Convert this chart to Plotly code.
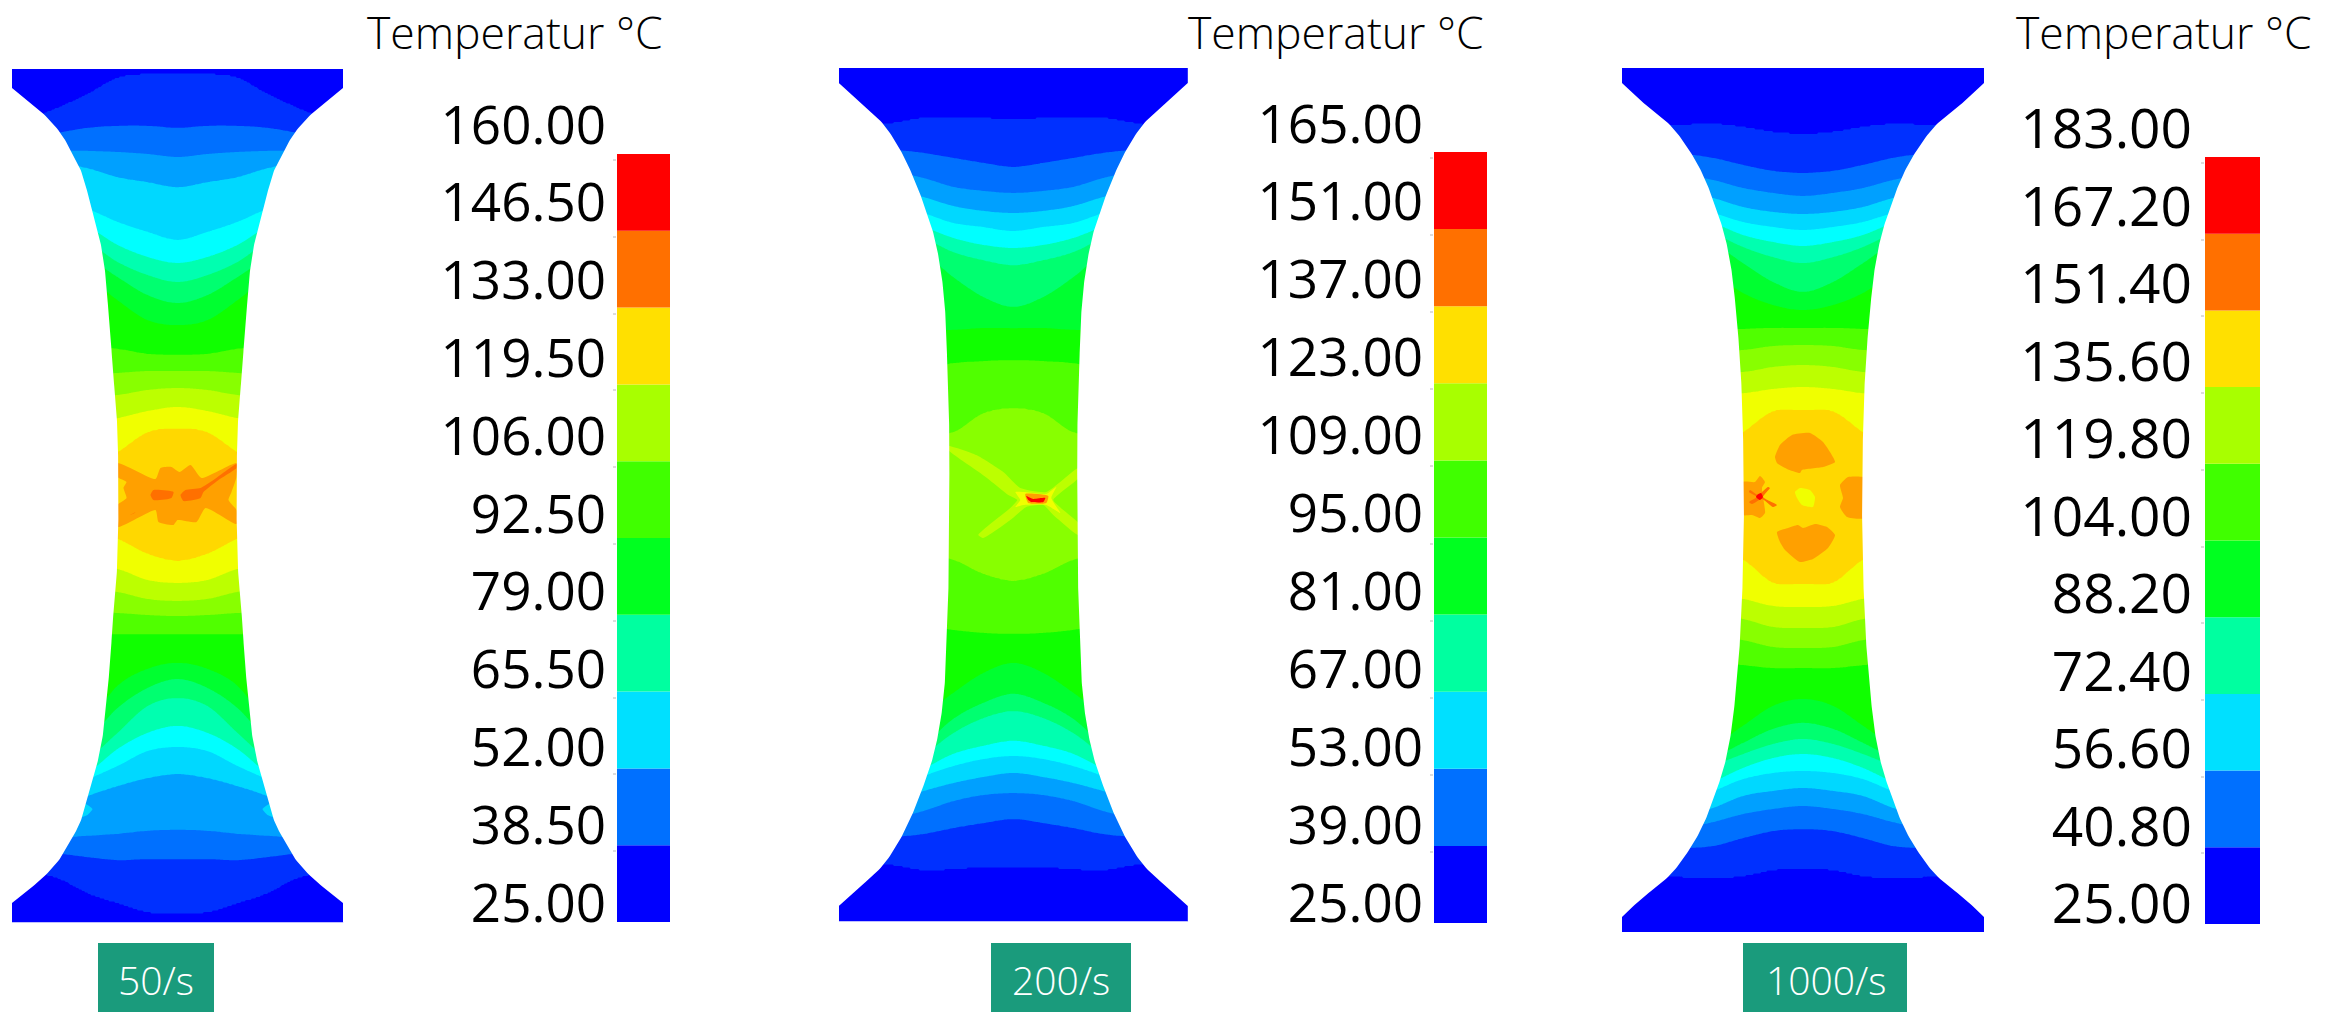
import numpy as np
import plotly.graph_objects as go

W_PX, H_PX = 2335, 1012
TITLE = "Temperatur °C"
FONT = "Open Sans"

# contour palette of the simulation (18 bands) and the coarser legend palette (10 swatches)
band_colors = ["#0000ff", "#0030ff", "#0070ff", "#00a0ff", "#00d8ff", "#00ffff", "#00ffb0", "#00ff70",
               "#00ff30", "#10ff00", "#50ff00", "#88ff00", "#bcff00", "#f0ff00", "#ffd800", "#ffa000",
               "#ff7000", "#ff0000"]
legend_colors = ["#0000ff", "#0070ff", "#00e0ff", "#00ffa0", "#00ff20", "#40ff00", "#a8ff00", "#ffe000",
                 "#ff7000", "#ff0000"]

# ---------- 50/s ----------
p1_rate = "50/s"
p1_levels = [25.0, 38.5, 52.0, 65.5, 79.0, 92.5, 106.0, 119.5, 133.0, 146.5, 160.0]
p1_labels = ["25.00", "38.50", "52.00", "65.50", "79.00", "92.50", "106.00", "119.50", "133.00", "146.50", "160.00"]
p1_outline_y = [69, 88, 113, 133, 152, 167, 187, 208, 233, 267, 300, 333, 367, 400, 433, 495.5]
p1_outline_half = [165.5, 165.5, 135, 117, 106, 98, 91.5, 86, 79, 73, 70, 67, 65, 62, 60, 59]
p1_dx = [0, 30, 60, 90, 120, 170]
p1_iso_top = [
    [72, 73, 77, 93, 107, 127], [128, 126, 126, 128, 133, 143], [157, 154, 152, 151, 151, 152],
    [187, 182, 177, 168, 163, 160], [240, 232, 222, 209, 200, 197], [263, 257, 245, 227, 220, 217],
    [282, 275, 262, 242, 233, 230], [303, 295, 277, 258, 250, 247], [325, 320, 300, 277, 267, 263],
    [355, 354, 349, 347, 340, 333], [371, 371, 373, 375, 375, 375], [388, 390, 395, 397, 397, 397],
    [407, 411, 418, 422, 422, 422], [428, 432, 452, 467, 473, 477]]
p1_iso_bottom = [
    [914, 913, 904, 894, 879, 868], [859, 859, 860, 857, 853, 845], [830, 831, 834, 836, 838, 840],
    [774, 778, 786, 796, 810, 825], [747, 751, 766, 779, 790, 798], [726, 733, 749, 773, 785, 792],
    [698, 706, 733, 759, 770, 778], [679, 688, 708, 739, 750, 760], [663, 669, 686, 723, 735, 745],
    [634, 634, 634, 634, 634, 634], [616, 615, 613, 612, 611, 610], [601, 599, 592, 590, 588, 586],
    [583, 580, 569, 565, 562, 560], [561, 554, 539, 530, 528, 525]]
p1_spots = [
    (4, [-101, -90, -85, -90, -100], [800, 805, 809, 815, 818]),
    (4, [101, 90, 85, 90, 100], [800, 805, 809, 815, 818]),
    (15, [-60, -22, -17, -6, 2, 13, 24, 59, 59, 54, 51, 59, 59, 28, 19, 0, -4, -19, -22, -60, -60, -51, -54, -51, -60],
     [463, 479, 468, 467, 472, 465, 478, 463, 477, 492, 500, 510, 524, 508, 522, 520, 525, 522, 510, 527, 505, 498, 488, 482, 477]),
    (16, [-27, -24, -4, -6, -24], [495, 490, 492, 498, 500]),
    (16, [3, 8, 23, 36, 59, 59, 41, 26, 23, 6], [495, 490, 488, 480, 464, 468, 480, 492, 498, 501]),
    (16, [-47, -42, -43], [515, 512, 513]),
]

# ---------- 200/s ----------
p2_rate = "200/s"
p2_levels = [25.0, 39.0, 53.0, 67.0, 81.0, 95.0, 109.0, 123.0, 137.0, 151.0, 165.0]
p2_labels = ["25.00", "39.00", "53.00", "67.00", "81.00", "95.00", "109.00", "123.00", "137.00", "151.00", "165.00"]
p2_outline_y = [68, 83, 100, 123, 150, 177, 200, 233, 267, 300, 333, 367, 433, 494.5]
p2_outline_half = [174.5, 174.5, 155.6, 131, 113, 100, 91, 80, 73, 69, 67, 66, 64, 64]
p2_dx = [0, 30, 60, 90, 120, 175]
p2_iso_top = [
    [119, 117, 116, 117, 122, 130], [167, 163, 158, 153, 150, 148], [193, 191, 187, 178, 172, 168],
    [213, 211, 206, 197, 190, 185], [231, 227, 223, 213, 205, 200], [248, 245, 238, 227, 220, 215],
    [265, 260, 252, 238, 230, 225], [307, 297, 277, 253, 245, 240], [328, 328, 330, 330, 330, 330],
    [360, 361, 363, 368, 368, 368], [408, 413, 432, 433, 433, 433]]
p2_iso_bottom = [
    [868, 868, 870, 871, 866, 860], [819, 823, 828, 834, 837, 842], [793, 795, 801, 811, 818, 825],
    [773, 777, 783, 791, 800, 808], [756, 759, 766, 776, 788, 798], [741, 746, 754, 769, 782, 792],
    [711, 718, 733, 755, 770, 780], [694, 703, 719, 745, 760, 770], [663, 673, 693, 715, 725, 735],
    [634, 633, 630, 625, 625, 625], [581, 574, 560, 555, 555, 555]]
p2_spots = [
    (12, [-65, -37, -10, 7, 33, 65, 65, 40, 50, 65, 65, 40, 30, 13, -3, -30, -35, -3, 4, -5, -20, -33, -65],
     [446, 455, 472, 488, 492, 468, 478, 500, 510, 523, 535, 515, 505, 507, 520, 538, 535, 508, 500, 495, 483, 473, 450]),
    (13, [2, 12, 33, 43, 38, 47, 33, 10, 2, 7], [492, 492, 494, 487, 498, 513, 505, 505, 507, 500]),
    (15, [12, 35, 33, 15], [494, 496, 503, 503]),
    (17, [13, 20, 32, 30, 18, 15], [496, 499, 498, 502, 502, 500]),
]

# ---------- 1000/s ----------
p3_rate = "1000/s"
p3_levels = [25.0, 40.8, 56.6, 72.4, 88.2, 104.0, 119.8, 135.6, 151.4, 167.2, 183.0]
p3_labels = ["25.00", "40.80", "56.60", "72.40", "88.20", "104.00", "119.80", "135.60", "151.40", "167.20", "183.00"]
p3_outline_y = [68, 83, 100, 125, 153, 177, 200, 233, 267, 300, 333, 367, 400, 433, 500]
p3_outline_half = [181, 181, 163, 133, 112, 99, 90, 79, 72, 68, 65, 62.5, 61, 60, 59]
p3_dx = [0, 30, 60, 90, 120, 181]
p3_iso_top = [
    [133, 131, 126, 123, 124, 127], [173, 171, 165, 158, 154, 150], [196, 193, 188, 180, 175, 170],
    [214, 212, 207, 198, 192, 188], [230, 227, 222, 213, 206, 200], [246, 242, 235, 223, 215, 210],
    [263, 257, 247, 233, 225, 220], [292, 282, 263, 243, 235, 230], [310, 305, 293, 273, 260, 250],
    [328, 328, 329, 330, 330, 330], [345, 346, 350, 350, 350, 350], [365, 367, 372, 372, 372, 372],
    [387, 389, 393, 393, 393, 393], [410, 411, 432, 450, 460, 470]]
p3_iso_bottom = [
    [869, 871, 877, 879, 878, 875], [829, 831, 838, 846, 848, 850], [806, 809, 814, 822, 828, 834],
    [788, 791, 796, 808, 816, 824], [771, 773, 779, 791, 800, 808], [754, 758, 768, 782, 792, 800],
    [739, 744, 754, 766, 780, 790], [723, 729, 743, 758, 770, 780], [699, 706, 726, 746, 755, 765],
    [668, 668, 665, 663, 660, 658], [648, 647, 640, 637, 635, 632], [628, 627, 619, 616, 612, 608],
    [607, 606, 599, 595, 590, 585], [584, 583, 560, 550, 540, 530]]
p3_spots = [
    (15, [-28, -23, -11, 7, 20, 32, 20, -1, -3, -16, -26], [457, 445, 435, 433, 442, 462, 467, 470, 473, 469, 463]),
    (15, [-26, -15, -5, 0, 12, 24, 32, 25, 10, -3, -18, -23], [532, 528, 525, 528, 524, 527, 535, 548, 559, 562, 550, 542]),
    (15, [-60, -48, -43, -38, -41, -38, -43, -51, -60], [482, 482, 476, 482, 488, 513, 518, 515, 515]),
    (15, [37, 45, 63, 63, 44, 37, 40], [485, 477, 478, 518, 517, 507, 498]),
    (13, [-8, -3, 7, 12, 10, -1, -6], [492, 488, 490, 497, 507, 505, 498]),
    (16, [-53, -45, -35, -33, -40, -26, -30, -41, -51, -54, -46, -54], [490, 495, 487, 488, 497, 505, 507, 499, 504, 502, 497, 492]),
    (17, [-46, -42, -40, -43, -47], [495, 493, 497, 500, 497]),
]

# layout of the picture, in reference pixels
panels = [
    dict(rate=p1_rate, levels=p1_levels, labels=p1_labels, oy=p1_outline_y, oh=p1_outline_half, dx=p1_dx,
         top=p1_iso_top, bot=p1_iso_bottom, spots=p1_spots, cx=177.5, tick_size=53,
         bar=(617, 670, 154, 922), lab=(606, 125, 903), title=515, badge=(98, 214, 156)),
    dict(rate=p2_rate, levels=p2_levels, labels=p2_labels, oy=p2_outline_y, oh=p2_outline_half, dx=p2_dx,
         top=p2_iso_top, bot=p2_iso_bottom, spots=p2_spots, cx=1013.3, tick_size=53,
         bar=(1434, 1487, 152, 923), lab=(1423, 124, 903), title=1336, badge=(991, 1131, 1061)),
    dict(rate=p3_rate, levels=p3_levels, labels=p3_labels, oy=p3_outline_y, oh=p3_outline_half, dx=p3_dx,
         top=p3_iso_top, bot=p3_iso_bottom, spots=p3_spots, cx=1803, tick_size=55,
         bar=(2205, 2260, 157, 924), lab=(2192, 129, 904), title=2164, badge=(1743, 1907, 1826)),
]


def stepped(colors):
    n = len(colors)
    out = []
    for i, c in enumerate(colors):
        out += [[i / n, c], [(i + 1) / n, c]]
    return out


def smooth(x_query, knots_x, knots_y, mirror=True):
    """Catmull-Rom curve through readings; optionally symmetric about the first knot."""
    kx = np.array(knots_x, float)
    ky = np.array(knots_y, float)
    if mirror:
        px = np.concatenate([[2 * kx[0] - kx[1]], kx, [2 * kx[-1] - kx[-2]]])
        py = np.concatenate([[ky[1]], ky, [2 * ky[-1] - ky[-2]]])
    else:
        px = np.concatenate([[2 * kx[0] - kx[1]], kx, [2 * kx[-1] - kx[-2]]])
        py = np.concatenate([[2 * ky[0] - ky[1]], ky, [ky[-2]]])
    q = np.clip(x_query, kx[0], kx[-1])
    s = np.clip(np.searchsorted(px, q, side="right") - 1, 1, len(px) - 3)
    h = px[s + 1] - px[s]
    t = (q - px[s]) / h
    m0 = (py[s + 1] - py[s - 1]) / (px[s + 1] - px[s - 1]) * h
    m1 = (py[s + 2] - py[s]) / (px[s + 2] - px[s]) * h
    return ((2 * t**3 - 3 * t**2 + 1) * py[s] + (t**3 - 2 * t**2 + t) * m0
            + (-2 * t**3 + 3 * t**2) * py[s + 1] + (t**3 - t**2) * m1)


fig = go.Figure()
layout = {}
annotations, shapes = [], []

for i, p in enumerate(panels):
    fx, fy = f"x{2 * i + 1}", f"y{2 * i + 1}"
    bx, by = f"x{2 * i + 2}", f"y{2 * i + 2}"
    ly = f"y{7 + i}"
    tmin, tmax = p["levels"][0], p["levels"][-1]
    step = (tmax - tmin) / 18
    half_max = max(p["oh"])
    y_top, y_mid = p["oy"][0], p["oy"][-1]
    y_bot = 2 * y_mid - y_top

    # temperature field rebuilt from the isotherm positions
    xs = np.arange(-half_max, half_max + 1.5, 1.5)
    ys = np.arange(y_top, y_bot + 1.5, 1.5)
    z = np.zeros((len(ys), len(xs)))
    n_iso = len(p["top"])
    lv = [tmin + (k + 1) * step for k in range(n_iso)]
    knot_z = lv + [lv[-1] + 0.5 * step] + lv[::-1]
    for j, xv in enumerate(xs):
        t = [float(smooth(np.array([abs(xv)]), p["dx"], b)[0]) for b in p["top"]]
        b = [float(smooth(np.array([abs(xv)]), p["dx"], c)[0]) for c in p["bot"]][::-1]
        knots = np.maximum.accumulate(np.array(t + [(t[-1] + b[0]) / 2] + b))
        z[:, j] = np.interp(ys, knots, knot_z, left=tmin + 0.5 * step, right=tmin + 0.5 * step)

    fig.add_trace(go.Contour(
        x=xs, y=ys, z=np.round(z, 2), xaxis=fx, yaxis=fy, showscale=False, autocontour=False,
        contours=dict(start=tmin + step, end=tmin + 17 * step, size=step, coloring="fill", showlines=False),
        line=dict(width=0), colorscale=stepped(band_colors), zmin=tmin, zmax=tmax, hoverinfo="skip"))

    for band, sx, sy in p["spots"]:
        fig.add_trace(go.Scatter(x=sx + sx[:1], y=sy + sy[:1], xaxis=fx, yaxis=fy, mode="lines", fill="toself",
                                 fillcolor=band_colors[band], line=dict(width=0, shape="spline", smoothing=0.5),
                                 showlegend=False, hoverinfo="skip"))

    # white outside of the specimen outline: straight grip edge, then a smooth curve to the neck
    oy = np.array(p["oy"], float)
    oh = np.array(p["oh"], float)
    fine_y = np.arange(oy[1], y_mid + 2.0, 2.0)
    fine_h = smooth(fine_y, oy[1:], oh[1:], mirror=False)
    half_y = np.concatenate([[oy[0]], fine_y])
    half_h = np.concatenate([[oh[0]], fine_h])
    full_y = np.concatenate([half_y, (2 * y_mid - half_y[::-1])[1:]])
    full_h = np.concatenate([half_h, half_h[::-1][1:]])
    edge = half_max + 3
    for sgn in (-1, 1):
        mx = np.concatenate([sgn * full_h, [sgn * edge, sgn * edge]])
        my = np.concatenate([full_y, [y_bot, y_top]])
        fig.add_trace(go.Scatter(x=mx, y=my, xaxis=fx, yaxis=fy, mode="lines", fill="toself", fillcolor="white",
                                 line=dict(width=0), showlegend=False, hoverinfo="skip"))

    cx = p["cx"]
    rng = half_max + 6
    layout["xaxis" + (str(2 * i + 1) if i else "")] = dict(
        domain=[(cx - rng) / W_PX, (cx + rng) / W_PX], range=[-rng, rng],
        visible=False, anchor=fy, automargin=False)
    layout[f"yaxis{2 * i + 1}" if i else "yaxis"] = dict(
        domain=[0, 1], range=[H_PX, 0], visible=False, anchor=fx, automargin=False)

    # legend bar
    x0, x1, top, bottom = p["bar"]
    lv_arr = np.array(p["levels"])
    fig.add_trace(go.Bar(x=[0.5] * len(legend_colors), y=lv_arr[1:] - lv_arr[:-1], base=lv_arr[:-1], width=1,
                         xaxis=bx, yaxis=by, marker=dict(color=legend_colors, line=dict(width=0)),
                         showlegend=False, hoverinfo="skip"))
    per_px = (tmax - tmin) / (bottom - top)
    layout[f"xaxis{2 * i + 2}"] = dict(domain=[x0 / W_PX, x1 / W_PX], range=[0, 1], visible=False, anchor=by,
                                       automargin=False)
    layout[f"yaxis{2 * i + 2}"] = dict(
        domain=[1 - bottom / H_PX, 1 - top / H_PX], range=[tmin, tmax], anchor=bx, showgrid=False, zeroline=False,
        showticklabels=False, ticks="outside", ticklen=3, tickwidth=2, tickcolor="#dcdcdc",
        tickvals=[v - 6 * per_px for v in p["levels"][1:]], automargin=False)

    # tick labels of the legend
    rx, ltop, lbot = p["lab"]
    fig.add_trace(go.Scatter(x=[0.5] * len(p["levels"]), y=p["levels"], xaxis=bx, yaxis=ly, mode="markers",
                             marker=dict(opacity=0), showlegend=False, hoverinfo="skip"))
    layout[f"yaxis{7 + i}"] = dict(
        domain=[1 - lbot / H_PX, 1 - ltop / H_PX], range=[tmin, tmax], anchor="free", position=rx / W_PX,
        side="left", showgrid=False, zeroline=False, showline=False, ticks="", automargin=False,
        tickmode="array", tickvals=p["levels"], ticktext=p["labels"],
        tickfont=dict(family=FONT, size=p["tick_size"], color="#000000"))

    # heading above the legend
    annotations.append(dict(x=p["title"] / W_PX, y=1, xref="paper", yref="paper", text=TITLE, showarrow=False,
                            xanchor="center", yanchor="top", borderpad=0,
                            font=dict(family=FONT, size=44.5, color="#000000", weight=300)))

    # strain-rate badge
    b0, b1, bc = p["badge"]
    shapes.append(dict(type="rect", xref="paper", yref="paper", x0=b0 / W_PX, x1=b1 / W_PX,
                       y0=0, y1=1 - 943 / H_PX, fillcolor="#1a9b7c", line=dict(width=0), layer="below"))
    annotations.append(dict(x=bc / W_PX, y=1 - 979 / H_PX, xref="paper", yref="paper", text=p["rate"],
                            showarrow=False, xanchor="center", yanchor="middle",
                            font=dict(family=FONT, size=39, color="#ffffff", weight=300)))

fig.update_layout(width=W_PX, height=H_PX, autosize=False, margin=dict(l=0, r=0, t=0, b=0),
                  paper_bgcolor="white", plot_bgcolor="rgba(0,0,0,0)", showlegend=False, barmode="overlay",
                  annotations=annotations, shapes=shapes, **layout)
fig.write_html("out.html", config=dict(displayModeBar=False),
               post_script="document.body.style.margin='0';document.body.style.overflow='hidden';")
